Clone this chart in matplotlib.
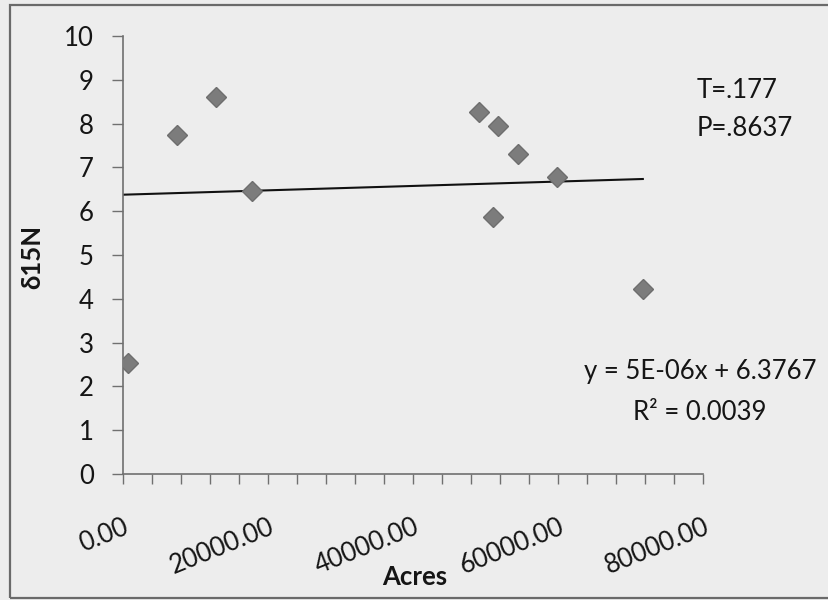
import matplotlib.pyplot as plt
from matplotlib.patches import Rectangle
from matplotlib.ticker import MultipleLocator, FuncFormatter
import numpy as np

plt.rcParams['font.family'] = ['Lato', 'DejaVu Sans']

# acres vs d15N
acres = [700, 7400, 12800, 17800, 49100, 51700, 54500, 59800, 51000, 71700]
d15n = [2.53, 7.74, 8.61, 6.46, 8.26, 7.95, 7.31, 6.78, 5.87, 4.22]

slope = 5e-06
intercept = 6.3767

bg = '#ededed'
txt = '#151515'
fs = 18.5
fig = plt.figure(figsize=(8.29, 6.0), dpi=100)
fig.patch.set_facecolor(bg)

# chart area border
fig.patches.append(Rectangle((10 / 829, 2 / 600), 1.2, 593 / 600,
                             transform=fig.transFigure, fill=False,
                             edgecolor='#6a6a6a', linewidth=1.6))

ax = fig.add_axes([123 / 829, 1 - 474 / 600, 580 / 829, 438 / 600])
ax.set_facecolor(bg)
ax.patch.set_alpha(0)

ax.plot(acres, d15n, linestyle='none', marker='D', markersize=10.5,
        color='#7c7c7c', markeredgecolor='#6e6e6e', zorder=3)

xl = np.array([0, max(acres)])
ax.plot(xl, slope * xl + intercept, color='#111111', linewidth=1.5, zorder=2)

ax.set_xlim(0, 80000)
ax.set_ylim(0, 10)
ax.xaxis.set_major_locator(MultipleLocator(20000))
ax.xaxis.set_minor_locator(MultipleLocator(4000))
ax.yaxis.set_major_locator(MultipleLocator(1))
ax.xaxis.set_major_formatter(FuncFormatter(lambda v, p: f'{v:.2f}'))

for s in ['top', 'right']:
    ax.spines[s].set_visible(False)
for s in ['left', 'bottom']:
    ax.spines[s].set_color('#707070')
    ax.spines[s].set_linewidth(1.2)

ax.tick_params(axis='y', which='major', length=8, width=1, color='#707070',
               labelsize=fs, pad=13, labelcolor=txt)
ax.tick_params(axis='x', which='both', length=7, width=1, color='#707070',
               labelsize=fs, pad=22, labelcolor=txt)
for lab in ax.get_xticklabels():
    lab.set_rotation(22)
    lab.set_ha('right')
    lab.set_va('top')
    lab.set_rotation_mode('anchor')

fig.text(32 / 829, 1 - 257 / 600, 'δ15N', rotation=90, fontsize=fs,
         fontweight='bold', ha='center', va='center', color=txt)
fig.text(415 / 829, 1 - 577 / 600, 'Acres', fontsize=fs, fontweight='bold',
         ha='center', va='center', color=txt)

fig.text(697 / 829, 1 - 90 / 600, 'T=.177', fontsize=fs, ha='left',
         va='center', color=txt)
fig.text(697 / 829, 1 - 128 / 600, 'P=.8637', fontsize=fs, ha='left',
         va='center', color=txt)
fig.text(700 / 829, 1 - 372 / 600, 'y = 5E-06x + 6.3767', fontsize=fs,
         ha='center', va='center', color=txt)
fig.text(700 / 829, 1 - 413 / 600, 'R² = 0.0039', fontsize=fs,
         ha='center', va='center', color=txt)

fig.savefig('out.png', dpi=100, facecolor=bg)
